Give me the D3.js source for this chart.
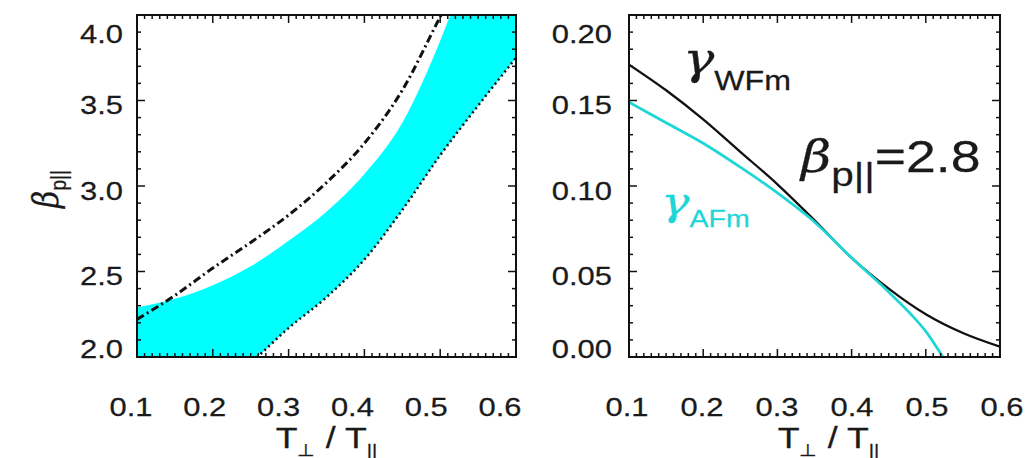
<!DOCTYPE html>
<html>
<head>
<meta charset="utf-8">
<script src="https://cdn.jsdelivr.net/npm/d3@7"></script>
<style>
  html, body { margin: 0; padding: 0; background: #fff; }
  svg text { font-family: "Liberation Sans", Arial, Helvetica, sans-serif; fill: #1a1a1a; stroke: #1a1a1a; stroke-width: 0.25px; }
</style>
</head>
<body>
<svg id="fig" width="1028" height="458"></svg>
<script>
// ---- data ----------------------------------------------------------
// temperature anisotropy T_perp / T_par
const xTicks = [0.1, 0.2, 0.3, 0.4, 0.5, 0.6];

// left panel: thresholds in (T_perp/T_par, beta_p||)
const betaTicks = [2.0, 2.5, 3.0, 3.5, 4.0];
const dashDotX = [0.10, 0.15, 0.20, 0.25, 0.30, 0.35, 0.40, 0.45, 0.50, 0.52];
const dashDotBeta = [2.22, 2.36, 2.52, 2.67, 2.83, 3.02, 3.25, 3.56, 3.99, 4.16];
const bandX = [0.10, 0.15, 0.20, 0.25, 0.30, 0.35, 0.40, 0.45, 0.50, 0.55, 0.60];
const dottedBeta = [1.57, 1.70, 1.84, 1.97, 2.17, 2.35, 2.57, 2.86, 3.18, 3.47, 3.75];
const bandTopBeta = [2.29, 2.34, 2.42, 2.53, 2.68, 2.85, 3.07, 3.37, 3.85, 4.45, 5.10];

// right panel: growth rates at beta_p|| = 2.8
const gammaTicks = [0.00, 0.05, 0.10, 0.15, 0.20];
const wfmX = [0.10, 0.15, 0.20, 0.25, 0.30, 0.35, 0.40, 0.45, 0.50, 0.55, 0.60];
const gammaWFm = [0.171, 0.156, 0.139, 0.120, 0.101, 0.080, 0.058, 0.040, 0.025, 0.014, 0.006];
const afmX = [0.10, 0.15, 0.20, 0.25, 0.30, 0.35, 0.40, 0.45, 0.48, 0.50, 0.523, 0.535];
const gammaAFm = [0.149, 0.137, 0.125, 0.111, 0.096, 0.079, 0.058, 0.038, 0.025, 0.015, 0.000, -0.008];

// ---- layout --------------------------------------------------------
const svg = d3.select("#fig");
const stretch = 1.19;          // glyphs are set slightly wide
const cyan = "#00ffff";
const cyanLine = "#1ed6d6";
const ink = "#111";

const panels = [
  { x0: 137, x1: 516, y0: 15, y1: 357, yDomain: [2.0, 4.0], yTicks: betaTicks,
    yFmt: d3.format(".1f"), yMinor: 0.1, labelRight: 123, xLabelShift: [-6, -16], titleShift: 0 },
  { x0: 629, x1: 1000, y0: 15, y1: 357, yDomain: [0.0, 0.2], yTicks: gammaTicks,
    yFmt: d3.format(".2f"), yMinor: 0.01, labelRight: 612, xLabelShift: [-2, 2], titleShift: 14 }
];

function wideText(g, x, y, str, size, anchor) {
  return g.append("text")
    .attr("transform", `translate(${x},${y}) scale(${stretch},1)`)
    .attr("text-anchor", anchor || "middle")
    .style("font-size", size + "px")
    .text(str);
}

panels.forEach((p, i) => {
  p.x = d3.scaleLinear().domain([0.1, 0.6]).range([p.x0, p.x1]);
  p.y = d3.scaleLinear().domain(p.yDomain).range([p.y1, p.y0]);
  p.g = svg.append("g");
  const clipId = "clip" + i;
  svg.append("clipPath").attr("id", clipId).append("rect")
    .attr("x", p.x0).attr("y", p.y0).attr("width", p.x1 - p.x0).attr("height", p.y1 - p.y0);
  p.plot = p.g.append("g").attr("clip-path", `url(#${clipId})`);
});

// ---- left panel marks ----------------------------------------------
{
  const p = panels[0];
  const band = d3.area()
    .x(d => p.x(d[0])).y0(d => p.y(d[1])).y1(d => p.y(d[2]))
    .curve(d3.curveMonotoneX);
  p.plot.append("path")
    .attr("d", band(d3.zip(bandX, dottedBeta, bandTopBeta)))
    .attr("fill", cyan);

  const curve = d3.line().x(d => p.x(d[0])).y(d => p.y(d[1])).curve(d3.curveMonotoneX);
  p.plot.append("path")
    .attr("d", curve(d3.zip(dashDotX, dashDotBeta)))
    .attr("fill", "none").attr("stroke", ink).attr("stroke-width", 3)
    .attr("stroke-dasharray", "8,3.5,2,3.5");
  p.plot.append("path")
    .attr("d", curve(d3.zip(bandX, dottedBeta)))
    .attr("fill", "none").attr("stroke", ink).attr("stroke-width", 2.5)
    .attr("stroke-dasharray", "2,3.2");
}

// ---- right panel marks ---------------------------------------------
{
  const p = panels[1];
  const curve = d3.line().x(d => p.x(d[0])).y(d => p.y(d[1])).curve(d3.curveMonotoneX);
  p.plot.append("path")
    .attr("d", curve(d3.zip(wfmX, gammaWFm)))
    .attr("fill", "none").attr("stroke", ink).attr("stroke-width", 2.3);
  p.plot.append("path")
    .attr("d", curve(d3.zip(afmX, gammaAFm)))
    .attr("fill", "none").attr("stroke", cyanLine).attr("stroke-width", 2.7);
}

// ---- axes: frame, inward ticks on all four sides, labels -------------
panels.forEach(p => {
  const g = p.g;
  const xMinor = d3.range(0.1, 0.6001, 0.01);
  const yMinor = d3.range(p.yDomain[0], p.yDomain[1] + 1e-9, p.yMinor);
  const isMajorX = v => Math.abs(v * 10 - Math.round(v * 10)) < 1e-6;
  const isMajorY = v => p.yTicks.some(t => Math.abs(t - v) < 1e-9);
  const tk = g.append("g").attr("stroke", ink).attr("stroke-width", 1.5);
  xMinor.forEach(v => {
    const len = isMajorX(v) ? 8 : 4;
    const xx = p.x(v);
    tk.append("line").attr("x1", xx).attr("x2", xx).attr("y1", p.y1).attr("y2", p.y1 - len);
    tk.append("line").attr("x1", xx).attr("x2", xx).attr("y1", p.y0).attr("y2", p.y0 + len);
  });
  yMinor.forEach(v => {
    const len = isMajorY(v) ? 8 : 4;
    const yy = p.y(v);
    tk.append("line").attr("y1", yy).attr("y2", yy).attr("x1", p.x0).attr("x2", p.x0 + len);
    tk.append("line").attr("y1", yy).attr("y2", yy).attr("x1", p.x1).attr("x2", p.x1 - len);
  });
  g.append("rect")
    .attr("x", p.x0).attr("y", p.y0).attr("width", p.x1 - p.x0).attr("height", p.y1 - p.y0)
    .attr("fill", "none").attr("stroke", ink).attr("stroke-width", 2);

  // y tick labels, kept inside the frame height
  p.yTicks.forEach(v => {
    const cy = Math.min(Math.max(p.y(v) + 4, p.y0 + 18), p.y1 - 9);
    wideText(g, p.labelRight, cy + 9.5, p.yFmt(v), 26, "end");
  });
  // x tick labels
  const lx = d3.scaleLinear().domain([0.1, 0.6])
    .range([p.x0 + p.xLabelShift[0], p.x1 + p.xLabelShift[1]]);
  xTicks.forEach(v => wideText(g, lx(v), 416, d3.format(".1f")(v), 26));

  // x-axis title  T⊥ / T||
  const cx = (p.x0 + p.x1) / 2 + p.titleShift;
  const t = g.append("text")
    .attr("transform", `translate(${cx},448) scale(${stretch},1)`)
    .attr("text-anchor", "middle").style("font-size", "30px");
  t.append("tspan").text("T");
  t.append("tspan").attr("dy", 8).style("font-size", "17px").text("\u22a5");
  t.append("tspan").attr("dy", -8).text(" / T");
  t.append("tspan").attr("dy", 8).style("font-size", "17px").text("||");
});

// y-axis title for the left panel: beta_p||
{
  const t = svg.append("text")
    .attr("transform", "translate(58,189) rotate(-90) scale(1,1.19)")
    .attr("text-anchor", "middle").style("font-size", "30px");
  t.append("tspan").style("font-family", "'DejaVu Serif', serif").style("font-style", "italic").text("\u03b2");
  t.append("tspan").attr("dy", 7).style("font-size", "19px").text("p||");
}

// ---- right panel annotations ---------------------------------------
{
  const g = panels[1].g;
  const greek = s => s.style("font-family", "'DejaVu Serif', serif").style("font-style", "italic");

  const w = g.append("text")
    .attr("transform", `translate(683,74) scale(${stretch},1)`)
    .style("font-size", "44px");
  greek(w.append("tspan")).text("\u03b3");
  w.append("tspan").attr("dy", 16).style("font-size", "27px").text("WFm");

  const a = g.append("text")
    .attr("transform", `translate(661,215) scale(${stretch},1)`)
    .style("font-size", "40px").style("fill", cyanLine).style("stroke", cyanLine);
  greek(a.append("tspan")).text("\u03b3");
  a.append("tspan").attr("dy", 12).style("font-size", "24px").text("AFm");

  const b = g.append("text")
    .attr("transform", `translate(801,172) scale(${stretch},1)`)
    .style("font-size", "44px");
  greek(b.append("tspan")).text("\u03b2");
  b.append("tspan").attr("dy", 14).style("font-size", "34px").text("p||");
  b.append("tspan").attr("dy", -14).style("font-size", "45px").text("=2.8");
}
</script>
</body>
</html>
